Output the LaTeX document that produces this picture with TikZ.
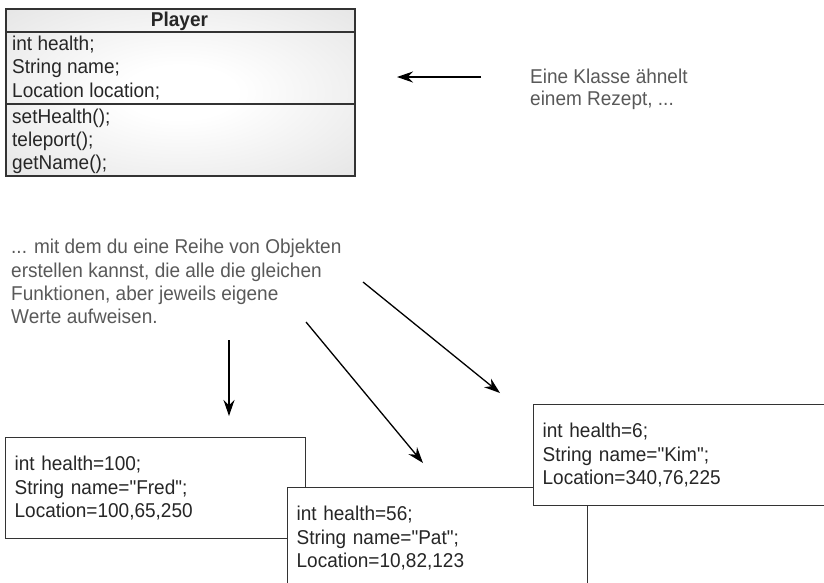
\documentclass[tikz,border=0pt]{standalone}
\usepackage{fontspec}
\setmainfont{Liberation Sans}[Ligatures=TeXOff, FakeStretch=0.95]
\usetikzlibrary{arrows.meta}
\pgfdeclareradialshading{classfade}{\pgfpoint{0bp}{0bp}}{color(0bp)=(white); color(8bp)=(white); color(50bp)=(black!15); color(71bp)=(black!21)}

\begin{document}
\begin{tikzpicture}[x=1pt,y=-1pt,>={Stealth[length=16pt,width=11pt]},
  txt/.style={font=\fontsize{20}{23.5}\selectfont, text=black!85, inner sep=0pt},
  note/.style={font=\fontsize{20}{23.3}\selectfont, text=black!65, inner sep=0pt, align=left, anchor=north west},
  objbox/.style={draw=black!80, line width=1.3pt, fill=white, anchor=north west, font=\fontsize{20}{23.5}\selectfont, text=black!85, align=left, text width=282pt, inner xsep=9pt, inner ysep=0pt, minimum height=101pt},
  divider/.style={draw=black!80, line width=1.3pt},
  pointer/.style={->, line width=1.3pt}]
  \useasboundingbox (0,0) rectangle (824,582);
  \clip (0,0) rectangle (824,582);
  % the class
  \node[shade, shading=classfade, draw=black!80, line width=1.6pt, anchor=north west, minimum width=349pt, minimum height=167pt, inner sep=0pt] (player) at (5,8) {};
  \node[txt, font=\fontsize{20}{23.5}\selectfont\bfseries, anchor=base] (title) at (179.5,26) {Player};
  \draw[divider] (player.west |- 0,32) -- (player.east |- 0,32);
  \draw[divider] (player.west |- 0,104) -- (player.east |- 0,104);
  \foreach \t [count=\i] in {{int health;},{String name;},{Location location;}}
    \node[txt, anchor=base west] (attr\i) at (12,{50+23.5*(\i-1)}) {\t};
  \foreach \t [count=\i] in {{setHealth();},{teleport();},{getName();}}
    \node[txt, anchor=base west] (meth\i) at (12,{123+23*(\i-1)}) {\t};
  % comments
  \node[note, font=\fontsize{20}{22}\selectfont] (recipe) at (530,68.6) {Eine Klasse ähnelt\\einem Rezept, ...};
  \node[note] (objects) at (11,239.2) {... mit dem du eine Reihe von Objekten\\erstellen kannst, die alle die gleichen\\Funktionen, aber jeweils eigene\\Werte aufweisen.};
  % arrows
  \coordinate (r1) at (481,77);
  \coordinate (r2) at (397,77);
  \coordinate (f1) at (229,340);
  \coordinate (f2) at (229,416);
  \coordinate (p1) at (306,322);
  \coordinate (p2) at (423,463);
  \coordinate (k1) at (363,282);
  \coordinate (k2) at (500,393);
  \draw[pointer] (r1) -- (r2);
  \draw[pointer] (f1) -- (f2);
  \draw[pointer] (p1) -- (p2);
  \draw[pointer] (k1) -- (k2);
  % the objects
  \node[objbox] (fred) at (5,437) {int health=100;\\String name="Fred";\\Location=100,65,250};
  \node[objbox] (pat) at (287,487) {int health=56;\\String name="Pat";\\Location=10,82,123};
  \node[objbox] (kim) at (533,404) {int health=6;\\String name="Kim";\\Location=340,76,225};
\end{tikzpicture}
\end{document}
